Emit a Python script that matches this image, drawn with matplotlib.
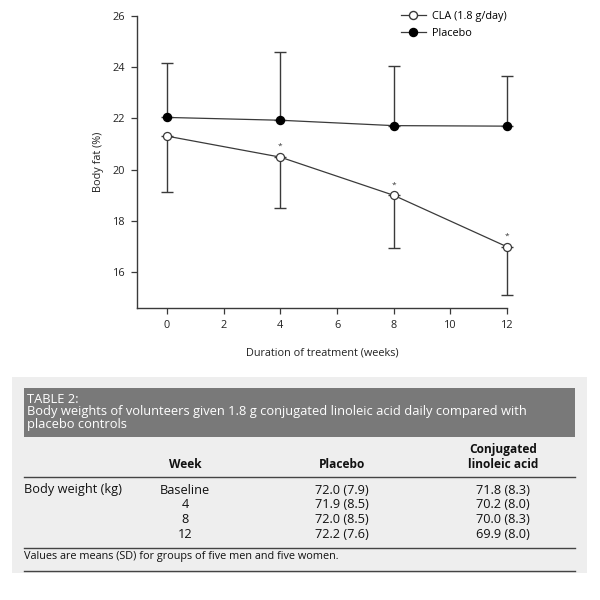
import matplotlib
matplotlib.use("Agg")
import matplotlib.pyplot as plt
from matplotlib.lines import Line2D
from matplotlib.patches import Rectangle

plt.rcParams['font.family'] = ['Open Sans', 'DejaVu Sans']

# ---- chart data ----
weeks = [0, 4, 8, 12]
cla_mean = [21.31, 20.49, 19.00, 16.99]
cla_sd = [2.20, 1.98, 2.07, 1.89]
placebo_mean = [22.04, 21.93, 21.72, 21.70]
placebo_sd = [2.11, 2.68, 2.31, 1.97]
significant = [False, True, True, True]
xticks = [0, 2, 4, 6, 8, 10, 12]
yticks = [16, 18, 20, 22, 24, 26]

# ---- table data ----
table_title = ["TABLE 2:",
               "Body weights of volunteers given 1.8 g conjugated linoleic acid daily compared with",
               "placebo controls"]
row_label = "Body weight (kg)"
week_labels = ["Baseline", "4", "8", "12"]
placebo_weights = ["72.0 (7.9)", "71.9 (8.5)", "72.0 (8.5)", "72.2 (7.6)"]
cla_weights = ["71.8 (8.3)", "70.2 (8.0)", "70.0 (8.3)", "69.9 (8.0)"]
footnote = "Values are means (SD) for groups of five men and five women."

W, H = 600, 600
fig = plt.figure(figsize=(6, 6), dpi=100)

def fx(px):
    return px / W

def fy(py):
    return 1 - py / H

ax = fig.add_axes([fx(137), fy(308), fx(507) - fx(137), fy(16) - fy(308)])
lc = '#3a3a3a'
tc = '#222222'
zeros = [0] * len(weeks)
fs = 7.8

e1 = ax.errorbar(weeks, placebo_mean, yerr=[zeros, placebo_sd], fmt='none',
                 ecolor=lc, elinewidth=1.0, capsize=4, capthick=1.0, zorder=2)
e2 = ax.errorbar(weeks, cla_mean, yerr=[cla_sd, zeros], fmt='none',
                 ecolor=lc, elinewidth=1.0, capsize=4, capthick=1.0, zorder=2)
for e in (e1, e2):
    for art in e.get_children():
        art.set_clip_on(False)
ax.plot(weeks, placebo_mean, '-o', color=lc, lw=0.9, ms=5.8,
        mfc='black', mec='black', zorder=3, clip_on=False)
ax.plot(weeks, cla_mean, '-o', color=lc, lw=0.9, ms=5.8,
        mfc='white', mec=lc, mew=0.9, zorder=3, clip_on=False)
for w, m, s in zip(weeks, cla_mean, significant):
    if s:
        ax.annotate('*', (w, m), xytext=(0, 5), textcoords='offset points',
                    ha='center', va='bottom', fontsize=6, color=lc)

ax.set_xlim(-1.06, 12)
ax.set_ylim(14.6, 26)
ax.set_xticks(xticks)
ax.set_yticks(yticks)
for side in ['top', 'right']:
    ax.spines[side].set_visible(False)
for side in ['left', 'bottom']:
    ax.spines[side].set_color(lc)
    ax.spines[side].set_linewidth(1.0)
ax.tick_params(direction='out', length=4.5, width=0.9, color=lc,
               labelsize=fs, labelcolor=tc, pad=4)
ax.set_ylabel('Body fat (%)', fontsize=fs, color=tc, labelpad=6)
ax.set_xlabel('Duration of treatment (weeks)', fontsize=fs, color=tc, labelpad=12)

handles = [Line2D([], [], color=lc, lw=0.9, marker='o', ms=5.8, mfc='white', mec=lc),
           Line2D([], [], color=lc, lw=0.9, marker='o', ms=5.8, mfc='black', mec='black')]
leg = fig.legend(handles, ['CLA (1.8 g/day)', 'Placebo'], loc='upper left',
                 bbox_to_anchor=(fx(391), fy(1)), frameon=False, fontsize=fs,
                 handlelength=2.3, handletextpad=0.6, labelspacing=0.6)

# ---- table ----
fig.patches.append(Rectangle((fx(12), fy(573)), fx(587) - fx(12), fy(377) - fy(573),
                             transform=fig.transFigure, facecolor='#eeeeee',
                             edgecolor='none', zorder=0))
fig.patches.append(Rectangle((fx(24), fy(437)), fx(575) - fx(24), fy(388) - fy(437),
                             transform=fig.transFigure, facecolor='#797979',
                             edgecolor='none', zorder=1))
for i, t in enumerate(table_title):
    fig.text(fx(27), fy(399.5 + 12.5 * i), t, color='white', fontsize=9.3,
             ha='left', va='center')

for yy in [477, 548, 571]:
    fig.add_artist(Line2D([fx(24), fx(575)], [fy(yy), fy(yy)],
                          transform=fig.transFigure, color='#444444', lw=1.0))

col_week, col_plac, col_cla = 185, 342, 503
hdr_kw = dict(fontsize=8.6, fontweight='bold', color='#111111', ha='center', va='center')
fig.text(fx(col_week), fy(465), 'Week', **hdr_kw)
fig.text(fx(col_plac), fy(465), 'Placebo', **hdr_kw)
fig.text(fx(col_cla), fy(450), 'Conjugated', **hdr_kw)
fig.text(fx(col_cla), fy(464), 'linoleic acid', **hdr_kw)

body_kw = dict(fontsize=9.2, color='#111111', va='center')
fig.text(fx(24), fy(490), row_label, ha='left', **body_kw)
for i, (wk, pw, cw) in enumerate(zip(week_labels, placebo_weights, cla_weights)):
    yy = 490 + 14.7 * i
    fig.text(fx(col_week), fy(yy), wk, ha='center', **body_kw)
    fig.text(fx(col_plac), fy(yy), pw, ha='center', **body_kw)
    fig.text(fx(col_cla), fy(yy), cw, ha='center', **body_kw)
fig.text(fx(24), fy(557), footnote, ha='left', fontsize=7.8, color='#111111', va='center')

fig.savefig('out.png', dpi=100)
